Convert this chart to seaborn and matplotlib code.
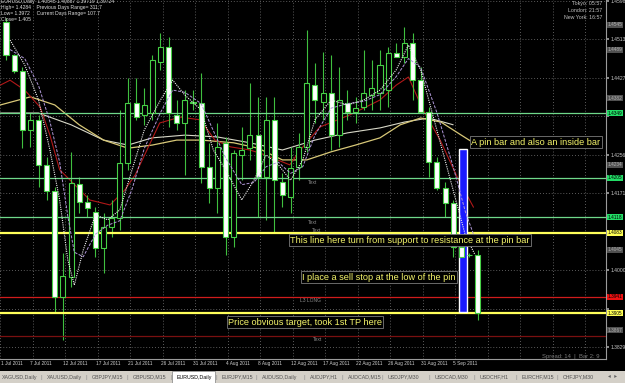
import numpy as np
import pandas as pd
import matplotlib
matplotlib.use("Agg")
import matplotlib.pyplot as plt
import matplotlib.transforms as mtrans
import seaborn as sns

# ---------------- data ----------------
opens = [1.4551, 1.4478, 1.4442, 1.4311, 1.4334, 1.4234, 1.4176, 1.3941, 1.3985, 1.4192,
         1.4152, 1.4129, 1.4049, 1.4096, 1.4116, 1.4238, 1.4371, 1.4345, 1.4349, 1.4462,
         1.4496, 1.4345, 1.4327, 1.4374, 1.4371, 1.4229, 1.4183, 1.4283, 1.4074, 1.4256,
         1.4271, 1.4300, 1.4207, 1.4334, 1.4196, 1.4163, 1.4229, 1.4274, 1.4411, 1.4374,
         1.4394, 1.4300, 1.4371, 1.4351, 1.4362, 1.4389, 1.4394, 1.4400, 1.4482, 1.4473,
         1.4505, 1.4422, 1.4351, 1.4240, 1.4183, 1.4149, 1.4052, 1.4034, 1.4034]
highs = [1.4560, 1.4480, 1.4451, 1.4349, 1.4345, 1.4251, 1.4185, 1.4038, 1.4263, 1.4207,
         1.4167, 1.4140, 1.4127, 1.4156, 1.4356, 1.4427, 1.4427, 1.4405, 1.4478, 1.4527,
         1.4518, 1.4378, 1.4400, 1.4400, 1.4438, 1.4283, 1.4327, 1.4296, 1.4267, 1.4318,
         1.4416, 1.4385, 1.4385, 1.4385, 1.4216, 1.4274, 1.4305, 1.4533, 1.4460, 1.4485,
         1.4478, 1.4451, 1.4400, 1.4385, 1.4489, 1.4467, 1.4489, 1.4496, 1.4505, 1.4540,
         1.4527, 1.4451, 1.4362, 1.4251, 1.4196, 1.4156, 1.4083, 1.4038, 1.4045]
lows = [1.4467, 1.4438, 1.4271, 1.4274, 1.4185, 1.4156, 1.3907, 1.3845, 1.3963, 1.4127,
        1.4118, 1.4029, 1.3994, 1.4074, 1.4089, 1.4223, 1.4334, 1.4323, 1.4334, 1.4445,
        1.4318, 1.4311, 1.4212, 1.4356, 1.4194, 1.4149, 1.4127, 1.4034, 1.4052, 1.4200,
        1.4245, 1.4118, 1.4112, 1.4083, 1.4140, 1.4127, 1.4200, 1.4263, 1.4327, 1.4334,
        1.4267, 1.4274, 1.4334, 1.4327, 1.4356, 1.4356, 1.4356, 1.4362, 1.4473, 1.4460,
        1.4378, 1.4349, 1.4207, 1.4178, 1.4118, 1.4029, 1.4023, 1.4029, 1.3890]
closes = [1.4478, 1.4442, 1.4311, 1.4334, 1.4234, 1.4176, 1.3941, 1.3987, 1.4194, 1.4152,
          1.4138, 1.4049, 1.4096, 1.4116, 1.4238, 1.4371, 1.4340, 1.4367, 1.4467, 1.4496,
          1.4349, 1.4327, 1.4378, 1.4372, 1.4229, 1.4183, 1.4274, 1.4074, 1.4260, 1.4267,
          1.4300, 1.4207, 1.4334, 1.4200, 1.4167, 1.4227, 1.4274, 1.4416, 1.4378, 1.4394,
          1.4300, 1.4378, 1.4351, 1.4360, 1.4394, 1.4405, 1.4456, 1.4482, 1.4474, 1.4505,
          1.4422, 1.4351, 1.4240, 1.4183, 1.4149, 1.4052, 1.4029, 1.4033, 1.3905]

# moving-average traces (bar index, price)
fast_x = [0.5, 2.3, 4, 5.4, 6.6, 7.6, 8.4, 9.5, 11, 12.5, 14, 15.5, 17, 19, 20.5, 22, 24, 25.5, 27, 29,
          30.5, 32, 33.5, 35, 36.5, 38, 40, 42, 44, 46, 48, 49.5, 51, 53, 55, 56.5, 57.7]
fast_y = [1.4511, 1.4456, 1.4378, 1.4267, 1.4156, 1.4023, 1.3967, 1.4045, 1.4123, 1.4112, 1.4134,
          1.4223, 1.4311, 1.4378, 1.4422, 1.4389, 1.4356, 1.4267, 1.4223, 1.4156, 1.4200, 1.4256,
          1.4234, 1.4200, 1.4245, 1.4334, 1.4378, 1.4367, 1.4378, 1.4400, 1.4445, 1.4500, 1.4445,
          1.4311, 1.4178, 1.4078, 1.4034]
purple_y = [1.4490, 1.4470, 1.4410, 1.4330, 1.4240, 1.4120, 1.4040, 1.4030, 1.4080, 1.4100, 1.4110,
            1.4180, 1.4270, 1.4350, 1.4400, 1.4395, 1.4370, 1.4310, 1.4250, 1.4190, 1.4195, 1.4230,
            1.4240, 1.4215, 1.4230, 1.4300, 1.4360, 1.4370, 1.4375, 1.4390, 1.4430, 1.4470, 1.4450,
            1.4350, 1.4230, 1.4130, 1.4070]
red_x = [-0.7, 0.5, 2.3, 4.2, 5.4, 6.6, 8.5, 10.3, 12.8, 14.6, 15.9, 18.9, 21.4, 23.9, 25.7, 27.6,
         30, 31.9, 34.9, 36.2, 38.6, 42.3, 44, 46, 48, 49.5, 51.3, 53.4, 55.5, 57.5]
red_y = [1.4411, 1.4422, 1.4400, 1.4362, 1.4300, 1.4223, 1.4189, 1.4156, 1.4145, 1.4178, 1.4212,
         1.4327, 1.4340, 1.4334, 1.4289, 1.4274, 1.4267, 1.4256, 1.4234, 1.4267, 1.4318, 1.4345,
         1.4360, 1.4378, 1.4411, 1.4429, 1.4356, 1.4289, 1.4207, 1.4140]
khaki_x = [-0.7, 3, 6, 9, 12, 15, 18, 21, 24, 28, 31, 34, 37, 40, 43, 46, 48.5, 51, 53.5, 56, 57.5]
khaki_y = [1.4367, 1.4385, 1.4367, 1.4323, 1.4289, 1.4271, 1.4278, 1.4289, 1.4289, 1.4283, 1.4271,
           1.4245, 1.4245, 1.4263, 1.4278, 1.4294, 1.4323, 1.4338, 1.4329, 1.4300, 1.4283]
pale_x = [-0.7, 4, 8, 12, 15, 18, 22, 26, 30, 34, 38, 42, 46, 49, 52, 55]
pale_y = [1.4349, 1.4349, 1.4323, 1.4289, 1.4278, 1.4294, 1.4300, 1.4296, 1.4283, 1.4267, 1.4289,
          1.4305, 1.4316, 1.4329, 1.4338, 1.4323]

# horizontal levels (visible lines and hidden text-object levels)
level_prices = [1.4349, 1.4205, 1.4118, 1.4083, 1.3941, 1.3905, 1.3853]
level_kinds = ["green", "green", "green", "yellow", "red", "yellow", "darkred"]
hidden_levels = [1.4545, 1.4489, 1.4382, 1.4234, 1.4045, 1.3867]

# blue rectangle (bar index span, price span)
rect_x = [55.7, 56.7]
rect_price = [1.3907, 1.4269]

price_ticks = [1.4598, 1.4513, 1.4427, 1.4342, 1.4256, 1.4171, 1.4085, 1.4000, 1.3914, 1.3829]
date_labels = ["1 Jul 2011", "7 Jul 2011", "12 Jul 2011", "17 Jul 2011", "21 Jul 2011", "26 Jul 2011",
               "31 Jul 2011", "4 Aug 2011", "8 Aug 2011", "12 Aug 2011", "17 Aug 2011", "22 Aug 2011",
               "26 Aug 2011", "31 Aug 2011", "5 Sep 2011"]
tab_labels = ["XAGUSD,Daily", "XAUUSD,Daily", "GBPJPY,M15", "GBPUSD,M15", "EURUSD,Daily", "EURJPY,M15",
              "AUDUSD,Daily", "AUDJPY,H1", "AUDCAD,M15", "USDJPY,M30", "USDCAD,M30", "USDCHF,H1",
              "EURCHF,M15", "CHFJPY,M30"]
annotations = ["A pin bar and also an inside bar",
               "This line here turn from support to resistance at the pin bar",
               "I place a sell stop at the low of the pin",
               "Price obvious target, took 1st TP here"]

# ---------------- style ----------------
sns.set_theme(style="dark", rc={"axes.facecolor": "black", "figure.facecolor": "black",
                                "savefig.facecolor": "black"})
plt.rcParams["font.family"] = ["Liberation Sans", "DejaVu Sans"]

W, H = 625, 383
def box(x0, y0, x1, y1):
    return [x0 / W, 1 - y1 / H, (x1 - x0) / W, (y1 - y0) / H]

fig = plt.figure(figsize=(6.25, 3.83), dpi=100)
ax = fig.add_axes(box(0, 0, 606, 359))
ax.set_facecolor("black")

df = pd.DataFrame({"o": opens, "h": highs, "l": lows, "c": closes})
df["i"] = np.arange(len(df))
df["bull"] = df["c"] >= df["o"]

WICK = "#3fbf3f"
EDGE = "#46d046"

Y0, Y1 = 1.3803, 1.4600
def to_px(p):
    return (Y1 - p) / (Y1 - Y0) * 359

# grid
grid_x = -0.74 + 4 * np.arange(19)
ax.set_xticks(grid_x)
ax.set_yticks(price_ticks)
ax.grid(True, color="#7a7a7a", linestyle=(0, (1, 2.5)), linewidth=0.6)
ax.tick_params(axis="x", length=0, labelbottom=False)
ax.yaxis.tick_right()
ax.tick_params(axis="y", length=2, color="#a0a0a0", labelsize=3.6, labelcolor="#c8c8c8", pad=1.5)
occupied = [to_px(p) for p, k in zip(level_prices, level_kinds) if k != "darkred"]
ax.set_yticklabels([("" if min(abs(to_px(p) - o) for o in occupied) < 7 else f"{p:.4f}")
                    for p in price_ticks])

# MA lines
sns.lineplot(x=pale_x, y=pale_y, ax=ax, color="#d8d8c8", linewidth=0.8, sort=False, zorder=2)
sns.lineplot(x=khaki_x, y=khaki_y, ax=ax, color="#d8c878", linewidth=0.9, sort=False, zorder=2)
sns.lineplot(x=red_x, y=red_y, ax=ax, color="#b01818", linewidth=0.8, sort=False, zorder=2)

# wicks + bodies
ax.vlines(df["i"], df["l"], df["h"], color=WICK, linewidth=0.8, zorder=3)
bodies_bottom = np.minimum(df["o"], df["c"])
bodies_h = np.abs(df["c"] - df["o"])
ax.bar(df["i"], bodies_h, bottom=bodies_bottom, width=0.62,
       color=np.where(df["bull"], "black", "white"), edgecolor=EDGE, linewidth=0.8, zorder=4)

sns.lineplot(x=fast_x, y=purple_y, ax=ax, color="#b098d8", linewidth=0.7, linestyle=(0, (3, 1.5)),
             sort=False, zorder=5)
sns.lineplot(x=fast_x, y=fast_y, ax=ax, color="#f0f0f0", linewidth=0.8, linestyle=(0, (1, 1)),
             sort=False, zorder=5)

# horizontal levels
kind_style = {"green": ("#6fd88a", 0.9), "yellow": ("#ffff5a", 1.6),
              "red": ("#d01c1c", 0.9), "darkred": ("#7a1010", 0.9)}
box_color = {"green": "#22dd66", "yellow": "#ffff55", "red": "#ee1111", "darkred": "#7a1010"}
ytrans = mtrans.blended_transform_factory(ax.transAxes, ax.transData)
for p, k in zip(level_prices, level_kinds):
    col, lw = kind_style[k]
    ax.axhline(p, color=col, linewidth=lw, zorder=3.5)
    if k != "darkred":
        ax.text(1.003, p, f"{p:.4f}", transform=ytrans, fontsize=3.4, color="black", va="center",
                ha="left", clip_on=False,
                bbox=dict(boxstyle="square,pad=0.12", fc=box_color[k], ec="none"), zorder=10)
for p in hidden_levels:
    ax.text(1.003, p, f"{p:.4f}", transform=ytrans, fontsize=3.4, color="#b0b0b0", va="center",
            ha="left", clip_on=False,
            bbox=dict(boxstyle="square,pad=0.12", fc="#505050", ec="none"), zorder=9)

# blue rectangle
ax.bar([np.mean(rect_x)], [rect_price[1] - rect_price[0]], bottom=rect_price[0],
       width=rect_x[1] - rect_x[0], color="#1a1aff", zorder=3.8)

ax.set_xlim(-0.74, 73.8)
ax.set_ylim(Y0, Y1)
for s in ["top", "left"]:
    ax.spines[s].set_visible(False)
for s in ["right", "bottom"]:
    ax.spines[s].set_color("#9a9a9a")
    ax.spines[s].set_linewidth(0.8)

# object labels
def px2data(px, py):
    return (px - 6) / 8.13, Y1 - (Y1 - Y0) * py / 359

for txt, (px, py) in zip(["Text", "Text", "Text", "L3 LONG", "Text"],
                         [(308, 183), (308, 222), (312, 230), (300, 300), (313, 339)]):
    x, y = px2data(px, py)
    ax.text(x, y, txt, color="#8a8a8a", fontsize=3.6, va="center", ha="left", zorder=6)

ann_bbox = dict(boxstyle="square,pad=0.15", fc="black", ec="#7a7a7a", lw=0.6)
for txt, (px, py) in zip(annotations, [(471, 142), (290, 240), (302, 277), (228, 322)]):
    x, y = px2data(px, py)
    ax.text(x, y, txt, color="#f4f46a", fontsize=6.6, va="center", ha="left", zorder=9, bbox=ann_bbox)

# date labels
dtrans = mtrans.blended_transform_factory(ax.transData, ax.transAxes)
for k, lab in enumerate(date_labels):
    gx = grid_x[k] + (0.08 if k == 0 else -0.25)
    ax.text(gx, -0.005, lab, transform=dtrans, fontsize=3.4, color="#d0d0d0", ha="left", va="top",
            clip_on=False)

# header texts
hdr = ["EURUSD,Daily  1.40545 1.40887 1.39719 1.39724",
       "High= 1.4284    Previous Days Range= 311.7",
       "Low= 1.3972     Current Days Range= 107.7",
       "Close= 1.405"]
for k, t in enumerate(hdr):
    fig.text(1 / W, 1 - (1.5 + 6 * k) / H, t, fontsize=3.6, color="#e0e0e0", va="center", ha="left")
for k, t in enumerate(["Tokyo: 05:57", "London: 21:57", "New York: 16:57"]):
    fig.text(602 / W, 1 - (3.5 + 7 * k) / H, t, fontsize=3.8, color="#c0c0c0", va="center", ha="right")
fig.text(600 / W, 1 - 359 / H, "Spread: 14  |  Bar 2: 9", fontsize=4.2, color="#7a7a7a",
         va="bottom", ha="right")

# tab bar
tb = fig.add_axes(box(0, 371, 625, 383))
tb.set_facecolor("#d4d0c8")
tb.set_xlim(0, 625)
tb.set_ylim(0, 12)
tb.set_xticks([])
tb.set_yticks([])
for s in tb.spines.values():
    s.set_visible(False)
tab_x = [2, 47, 92, 133, 177, 222, 262, 310, 348, 388, 435, 480, 522, 563]
tb.bar([193.5], [12], bottom=0, width=43, color="white", edgecolor="#808080", linewidth=0.5)
for t, x in zip(tab_labels, tab_x):
    tb.text(x, 6, t, fontsize=3.8, color="black" if t == "EURUSD,Daily" else "#505050",
            va="center", ha="left")
    if x > 10:
        tb.text(x - 6, 6, "|", fontsize=4.5, color="#909090", va="center", ha="center")
tb.text(612, 6, "◂  ▸", fontsize=4, color="#606060", va="center", ha="center", family="DejaVu Sans")

fig.savefig("out.png", dpi=100, facecolor="black")
